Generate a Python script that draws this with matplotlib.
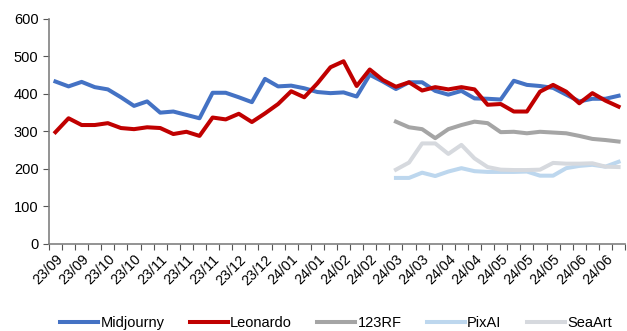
import matplotlib
matplotlib.use('Agg')
import matplotlib.pyplot as plt
import numpy as np

plt.rcParams['font.family'] = ['Liberation Sans', 'DejaVu Sans']

# weekly labels, shown on every 2nd week
tick_labels = ['23/09', '23/09', '23/10', '23/10', '23/11', '23/11', '23/11', '23/12',
               '23/12', '24/01', '24/01', '24/02', '24/02', '24/03', '24/03', '24/04',
               '24/04', '24/05', '24/05', '24/05', '24/06', '24/06']

midjourny = [433, 420, 432, 418, 412, 391, 368, 380, 350, 353, 344, 335, 403, 403, 391, 378,
             440, 420, 422, 415, 405, 402, 404, 393, 451, 433, 413, 431, 431, 408, 398, 408,
             388, 387, 385, 435, 424, 421, 416, 398, 380, 387, 387, 395]
leonardo = [298, 335, 317, 317, 322, 309, 306, 311, 309, 293, 299, 288, 337, 332, 347, 325,
            348, 373, 407, 391, 428, 471, 487, 421, 465, 437, 419, 431, 409, 418, 412, 418,
            412, 371, 373, 353, 353, 406, 424, 406, 375, 402, 382, 366]
rf123 = [326, 311, 306, 282, 306, 317, 326, 322, 298, 299, 295, 299, 297, 295, 288, 280, 277, 273]
pixai = [176, 176, 190, 181, 193, 202, 194, 192, 192, 192, 193, 182, 182, 202, 208, 211, 206, 219]
seaart = [198, 217, 268, 268, 240, 264, 228, 205, 198, 197, 197, 198, 216, 214, 214, 215, 206, 205]

n = len(midjourny)
x = np.arange(n)
x_late = np.arange(n - len(rf123), n)

fig, ax = plt.subplots(figsize=(6.27, 3.31), dpi=100)
fig.subplots_adjust(left=0.078, right=0.997, top=0.943, bottom=0.263)

lw = 2.9
ax.plot(x, midjourny, color='#4472C4', lw=lw, label='Midjourny')
ax.plot(x, leonardo, color='#C00000', lw=lw, label='Leonardo')
ax.plot(x_late, rf123, color='#A5A5A5', lw=lw, label='123RF')
ax.plot(x_late, pixai, color='#BDD7EE', lw=lw, label='PixAI')
ax.plot(x_late, seaart, color='#D6D9DE', lw=lw, label='SeaArt')

ax.set_xlim(-0.5, n - 0.5)
ax.set_ylim(0, 600)
ax.set_yticks(range(0, 601, 100))

ax.set_xticks(x[::2])
ax.set_xticklabels(tick_labels, rotation=45, ha='right', va='top', rotation_mode='anchor')
ax.set_xticks(np.arange(-0.5, n, 1), minor=True)
ax.tick_params(axis='x', which='major', length=0, pad=6, labelsize=10.3, colors='black')
ax.tick_params(axis='x', which='minor', length=4, width=0.8, color='#555555', direction='out')
ax.tick_params(axis='y', length=4, width=0.8, color='#555555', labelsize=10.5, labelcolor='black')

for s in ['top', 'right']:
    ax.spines[s].set_visible(False)
for s in ['left', 'bottom']:
    ax.spines[s].set_color('#808080')
    ax.spines[s].set_linewidth(1.2)

fig.legend(loc='lower center', bbox_to_anchor=(0.536, -0.015), ncol=5, frameon=False,
           fontsize=10.5, handlelength=2.6, handletextpad=0.15, columnspacing=1.75,
           borderaxespad=0)

plt.savefig('out.png', dpi=100)
